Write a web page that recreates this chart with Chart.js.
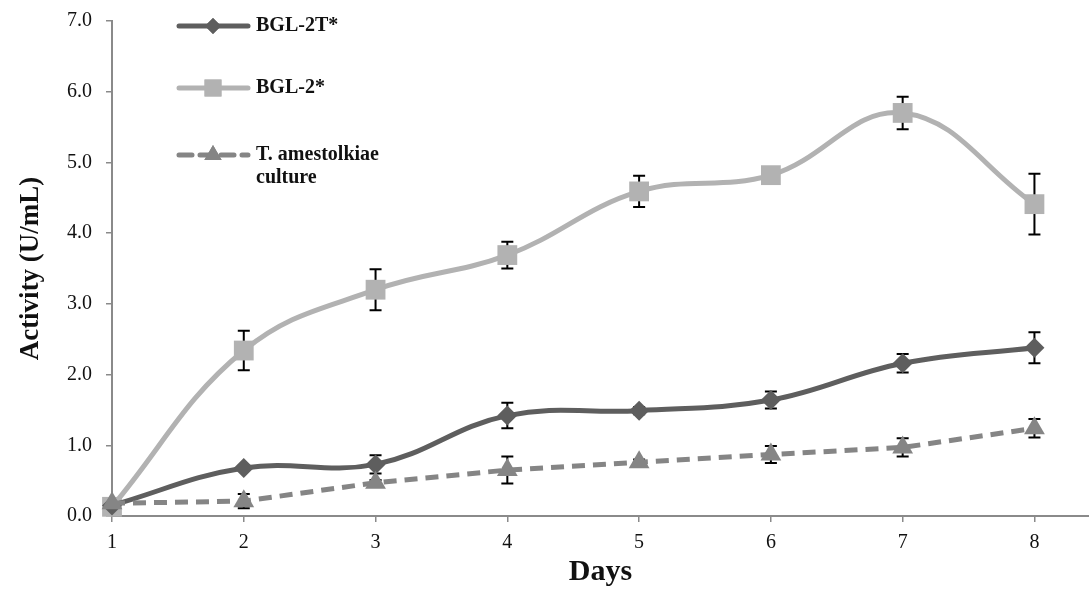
<!DOCTYPE html>
<html>
<head>
<meta charset="utf-8">
<script src="https://cdn.jsdelivr.net/npm/chart.js@4.4.0/dist/chart.umd.min.js"></script>
<style>
  html, body { margin: 0; padding: 0; background: #fff; }
  canvas { display: block; }
</style>
</head>
<body>
<canvas id="chart" width="1089" height="590"></canvas>
<script>
const days = [1, 2, 3, 4, 5, 6, 7, 8];
const yTicks = [0, 1, 2, 3, 4, 5, 6, 7];
const seriesNames = ["BGL-2T*", "BGL-2*", "T. amestolkiae culture"];
const bgl2t = [0.15, 0.68, 0.73, 1.42, 1.49, 1.64, 2.16, 2.38];
const bgl2tErr = [0, 0.03, 0.13, 0.18, 0.05, 0.12, 0.13, 0.22];
const bgl2 = [0.13, 2.34, 3.20, 3.69, 4.59, 4.82, 5.70, 4.41];
const bgl2Err = [0, 0.28, 0.29, 0.19, 0.22, 0.04, 0.23, 0.43];
const culture = [0.18, 0.21, 0.47, 0.65, 0.76, 0.87, 0.97, 1.24];
const cultureErr = [0, 0.10, 0.04, 0.19, 0.04, 0.12, 0.13, 0.13];

const DARK = "#5e5e5e", LIGHT = "#b2b2b2", MID = "#858585";
const SERIF = "'Liberation Serif', 'Times New Roman', serif";

const toPoints = vals => days.map((d, i) => ({ x: d, y: vals[i] }));

// error bars, drawn under the markers
const errorBars = {
  id: 'errorBars',
  beforeDatasetsDraw(chart) {
    const ctx = chart.ctx;
    const xs = chart.scales.x, ys = chart.scales.y;
    ctx.save();
    ctx.strokeStyle = "#000";
    ctx.lineWidth = 2;
    chart.data.datasets.forEach(ds => {
      ds.data.forEach((p, i) => {
        const e = ds.errors[i];
        if (!e) return;
        const x = xs.getPixelForValue(p.x);
        const yt = ys.getPixelForValue(p.y + e);
        const yb = ys.getPixelForValue(p.y - e);
        ctx.beginPath();
        ctx.moveTo(x, yt); ctx.lineTo(x, yb);
        ctx.moveTo(x - 6, yt); ctx.lineTo(x + 6, yt);
        ctx.moveTo(x - 6, yb); ctx.lineTo(x + 6, yb);
        ctx.stroke();
      });
    });
    ctx.restore();
  }
};

// legend in the top left of the plot
const legendBox = {
  id: 'legendBox',
  afterDraw(chart) {
    const ctx = chart.ctx;
    const rows = [
      { y: 26, color: DARK, dash: [], style: 'rectRot', r: 8, lines: [seriesNames[0]] },
      { y: 88, color: LIGHT, dash: [], style: 'rect', r: 12, lines: [seriesNames[1]] },
      { y: 155, color: MID, dash: [13, 8], style: 'triangle', r: 10, lines: ["T. amestolkiae", "culture"] }
    ];
    ctx.save();
    rows.forEach(row => {
      ctx.strokeStyle = row.color;
      ctx.lineWidth = 5;
      ctx.lineCap = 'round';
      ctx.setLineDash(row.dash);
      ctx.beginPath();
      ctx.moveTo(179, row.y); ctx.lineTo(248, row.y);
      ctx.stroke();
      ctx.setLineDash([]);
      ctx.fillStyle = row.color;
      Chart.helpers.drawPoint(ctx, { pointStyle: row.style, radius: row.r, rotation: 0, borderWidth: 0 }, 213, row.y);
      ctx.fill();
      ctx.fillStyle = "#111";
      ctx.font = "bold 20px " + SERIF;
      ctx.textBaseline = 'middle';
      row.lines.forEach((t, k) => ctx.fillText(t, 256, row.y + k * 23));
    });
    ctx.restore();
  }
};

new Chart(document.getElementById('chart'), {
  type: 'line',
  data: {
    datasets: [
      {
        label: seriesNames[2], data: toPoints(culture), errors: cultureErr, order: 1, clip: false,
        borderColor: MID, backgroundColor: MID, borderWidth: 5, borderDash: [13, 8],
        tension: 0, pointStyle: 'triangle', pointRadius: 12, pointBorderWidth: 0
      },
      {
        label: seriesNames[0], data: toPoints(bgl2t), errors: bgl2tErr, order: 2, clip: false,
        borderColor: DARK, backgroundColor: DARK, borderWidth: 5,
        tension: 0.4, pointStyle: 'rectRot', pointRadius: 10, pointBorderWidth: 0
      },
      {
        label: seriesNames[1], data: toPoints(bgl2), errors: bgl2Err, order: 3, clip: false,
        borderColor: LIGHT, backgroundColor: LIGHT, borderWidth: 5,
        tension: 0.4, pointStyle: 'rect', pointRadius: 14, pointBorderWidth: 0
      }
    ]
  },
  options: {
    responsive: false,
    animation: false,
    devicePixelRatio: 1,
    layout: { autoPadding: false, padding: { top: 21, right: 0, left: 0, bottom: 0 } },
    plugins: { legend: { display: false }, tooltip: { enabled: false } },
    scales: {
      x: {
        type: 'linear',
        min: 1,
        max: 8.414,
        afterBuildTicks: s => { s.ticks = days.map(v => ({ value: v })); },
        afterFit: s => { s.height = 74; s.paddingLeft = 0; s.paddingRight = 0; },
        grid: { drawOnChartArea: false, drawTicks: true, tickLength: 6, color: "#8a8a8a", lineWidth: 1.5 },
        border: { color: "#8a8a8a", width: 2 },
        ticks: { color: "#111", font: { family: SERIF, size: 20 }, padding: 9 },
        title: { display: true, text: "Days", color: "#111", font: { family: SERIF, size: 30, weight: 'bold' }, padding: { top: 0, bottom: 0 } }
      },
      y: {
        min: 0,
        max: 7,
        afterBuildTicks: s => { s.ticks = yTicks.map(v => ({ value: v })); },
        afterFit: s => { s.width = 112; s.paddingTop = 0; s.paddingBottom = 0; },
        grid: { drawOnChartArea: false, drawTicks: true, tickLength: 6, color: "#8a8a8a", lineWidth: 1.5 },
        border: { color: "#8a8a8a", width: 2 },
        ticks: { color: "#111", font: { family: SERIF, size: 20 }, padding: 14, callback: v => v.toFixed(1) },
        title: { display: true, text: "Activity (U/mL)", color: "#111", font: { family: SERIF, size: 27, weight: 'bold' }, padding: { top: 15, bottom: 0 } }
      }
    }
  },
  plugins: [errorBars, legendBox]
});
</script>
</body>
</html>
